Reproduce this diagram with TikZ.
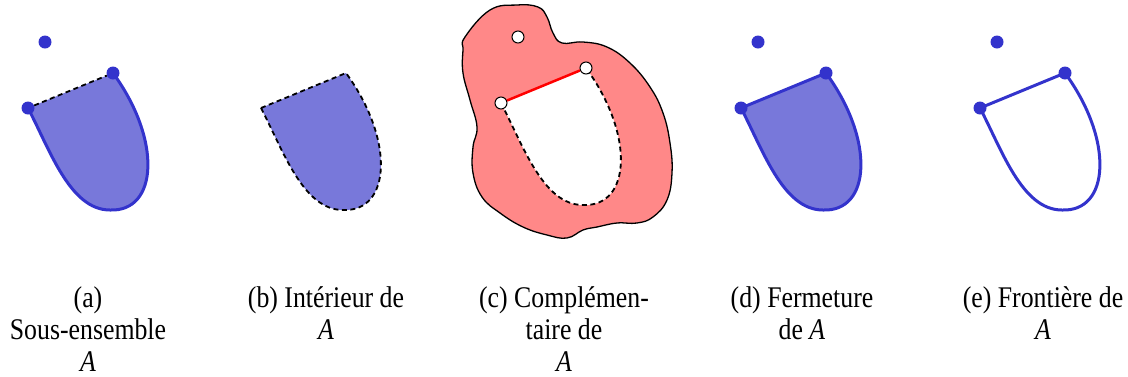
\documentclass[tikz,border=0pt]{standalone}
\usepackage{fontspec}
\setmainfont{Liberation Serif}
\usepackage{xcolor}
\usepackage{graphicx}
\usepackage{tikz}
\definecolor{setblue}{RGB}{51,51,204}
\definecolor{setfill}{RGB}{120,120,218}
\definecolor{compfill}{RGB}{255,136,136}
\tikzset{
	cupfill/.style={fill=setfill},
	cupline/.style={draw=setblue, line width=3pt, line join=round},
	dashline/.style={draw=black, line width=1.8pt, dash pattern=on 5pt off 3.5pt},
	blobline/.style={draw=black, line width=1.3pt, fill=compfill},
	redline/.style={draw=red, line width=2.5pt},
	bdot/.style={circle, fill=setblue, inner sep=0pt, minimum size=13pt},
	wdot/.style={circle, draw=black, fill=white, line width=1pt, inner sep=0pt, minimum size=12pt},
	subcap/.style={font=\fontsize{30}{32}\selectfont, inner sep=0pt, anchor=north},
}
% curved part of the set, from the left point round to the right point
\newcommand{\cupcurve}{(28,108) .. controls (50,150) and (70,210) .. (110,210) .. controls (158,212) and (162,140) .. (113,73)}
% narrow caption lines
\newcommand{\caplines}[1]{\scalebox{0.86}[1]{\begin{tabular}{@{}c@{}}#1\end{tabular}}}

\begin{document}
\begin{tikzpicture}[x=1pt, y=-1pt]
	\useasboundingbox (0,0) rectangle (1128,376);
	% (a) subset
	\begin{scope}
		\fill[cupfill] \cupcurve -- cycle;
		\draw[cupline] \cupcurve;
		\node[bdot] (aP) at (45,42) {};
		\node[bdot] (aL) at (28,108) {};
		\node[bdot] (aR) at (113,73) {};
		\draw[dashline] (aL) -- (aR);
	\end{scope}
	% (b) interior
	\begin{scope}[shift={(233,0)}]
		\fill[cupfill] \cupcurve -- cycle;
		\draw[dashline] \cupcurve -- cycle;
	\end{scope}
	% (c) complement
	\begin{scope}
		\draw[blobline] plot[smooth cycle, tension=0.7] coordinates {
			(465,37) (490,10) (517,5) (538,7) (547,17) (553,33) (562,43)
			(583,42) (607,47) (630,63) (650,87) (663,113) (670,143) (672,173)
			(667,200) (653,217) (637,223) (617,223) (597,227) (583,230)
			(567,238) (547,235) (523,227) (500,213) (482,197) (473,173)
			(473,147) (477,127) (470,100) (463,73) (463,50)};
	\end{scope}
	\begin{scope}[shift={(473,-5)}]
		\fill[white] \cupcurve -- cycle;
		\draw[dashline] \cupcurve;
		\node[wdot] (cP) at (45,42) {};
		\node[wdot] (cL) at (28,108) {};
		\node[wdot] (cR) at (113,73) {};
		\draw[redline] (cL) -- (cR);
	\end{scope}
	% (d) closure
	\begin{scope}[shift={(713,0)}]
		\fill[cupfill] \cupcurve -- cycle;
		\draw[cupline] \cupcurve -- cycle;
		\node[bdot] (dP) at (45,42) {};
		\node[bdot] (dL) at (28,108) {};
		\node[bdot] (dR) at (113,73) {};
	\end{scope}
	% (e) boundary
	\begin{scope}[shift={(952,0)}]
		\draw[cupline] \cupcurve -- cycle;
		\node[bdot] (eP) at (45,42) {};
		\node[bdot] (eL) at (28,108) {};
		\node[bdot] (eR) at (113,73) {};
	\end{scope}
	% captions
	\node[subcap] (capa) at (88,284.6) {\caplines{(a)\\Sous-ensemble\\\textit{A}}};
	\node[subcap] (capb) at (326,284.6) {\caplines{(b) Intérieur de\\\textit{A}}};
	\node[subcap] (capc) at (564,284.6) {\caplines{(c) Complémen-\\taire de\\\textit{A}}};
	\node[subcap] (capd) at (802,284.6) {\caplines{(d) Fermeture\\de \textit{A}}};
	\node[subcap] (cape) at (1043,284.6) {\caplines{(e) Frontière de\\\textit{A}}};
\end{tikzpicture}
\end{document}
